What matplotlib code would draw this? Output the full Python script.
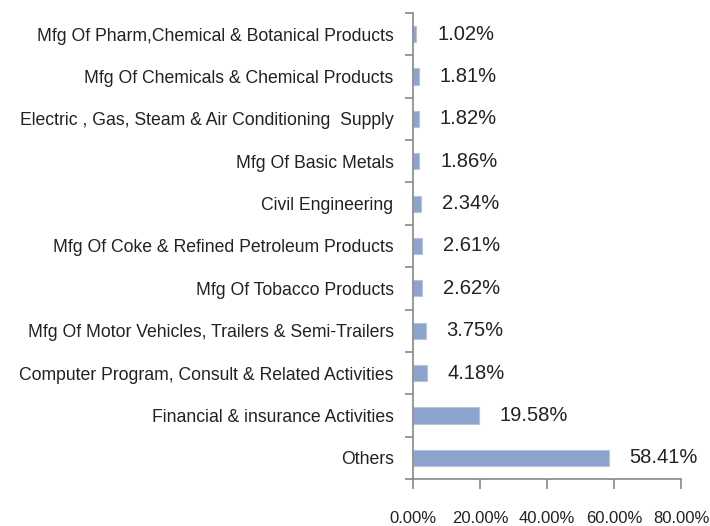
import matplotlib
matplotlib.use("Agg")
import matplotlib.pyplot as plt
import numpy as np

categories = [
    "Mfg Of Pharm,Chemical & Botanical Products",
    "Mfg Of Chemicals & Chemical Products",
    "Electric , Gas, Steam & Air Conditioning  Supply",
    "Mfg Of Basic Metals",
    "Civil Engineering",
    "Mfg Of Coke & Refined Petroleum Products",
    "Mfg Of Tobacco Products",
    "Mfg Of Motor Vehicles, Trailers & Semi-Trailers",
    "Computer Program, Consult & Related Activities",
    "Financial & insurance Activities",
    "Others",
]
values = [1.02, 1.81, 1.82, 1.86, 2.34, 2.61, 2.62, 3.75, 4.18, 19.58, 58.41]
xticks = [0, 20, 40, 60, 80]
xtick_labels = ["0.00%", "20.00%", "40.00%", "60.00%", "80.00%"]

plt.rcParams['font.family'] = ['Liberation Sans', 'DejaVu Sans']

fig = plt.figure(figsize=(7.10, 5.26), dpi=100)
ax = fig.add_axes([413/710, 1-479/526, (681-413)/710, (479-13)/526])

n = len(categories)
ypos = np.arange(n)[::-1]
ax.barh(ypos, values, height=0.38, color="#8EA3CE", edgecolor="#B4C3E0", linewidth=0.8)

for y, v in zip(ypos, values):
    ax.annotate(f"{v:.2f}%", xy=(v, y), xytext=(15, 0), textcoords="offset points",
                ha="left", va="center", fontsize=14.5, color="#222222")

ax.set_xlim(0, 80)
ax.set_ylim(-0.5, n - 0.5)
ax.set_xticks(xticks)
ax.set_xticklabels(xtick_labels, fontsize=12, color="#222222")
ax.set_yticks(ypos)
ax.set_yticklabels(categories, fontsize=12.7, color="#222222")
ax.set_yticks(np.arange(-0.5, n, 1.0), minor=True)
ax.tick_params(axis="y", which="major", length=0, pad=14)
ax.tick_params(axis="y", which="minor", length=6, width=1.2, color="#888888", direction="out")
ax.tick_params(axis="x", which="major", length=7, width=1.2, color="#888888", direction="out", pad=16)

for s in ["top", "right"]:
    ax.spines[s].set_visible(False)
for s in ["left", "bottom"]:
    ax.spines[s].set_color("#888888")
    ax.spines[s].set_linewidth(1.2)

fig.savefig("out.png", dpi=100)
